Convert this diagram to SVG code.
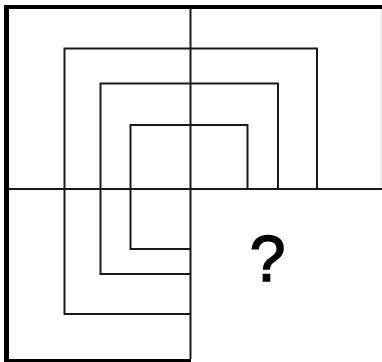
<svg xmlns="http://www.w3.org/2000/svg" width="382" height="362" viewBox="0 0 382 362">
  <style>
    .thin { fill: none; stroke: #1a1a1a; stroke-width: 2; }
    .thick { fill: none; stroke: #000; }
    .q { font-family: "Liberation Sans", Arial, sans-serif; font-size: 64px; fill: #000; stroke: #000; stroke-width: 1.6; }
  </style>
  <rect x="0" y="0" width="382" height="362" fill="#fff"/>
  <g id="frame">
    <line class="thick" x1="4" y1="7" x2="382" y2="7" stroke-width="4"/>
    <line class="thick" x1="6.5" y1="5" x2="6.5" y2="362" stroke-width="5"/>
    <line class="thick" x1="4" y1="360.5" x2="191" y2="360.5" stroke-width="3"/>
    <line x1="381" y1="9" x2="381" y2="189" stroke="#e0e0e0" stroke-width="1"/>
  </g>
  <g id="axes">
    <line class="thin" x1="9" y1="189" x2="382" y2="189"/>
    <line class="thin" x1="190.5" y1="9" x2="190.5" y2="359"/>
  </g>
  <g id="squares">
    <path class="thin" d="M317,189 V48.5 H64.5 V314 H190"/>
    <path class="thin" d="M278,189 V83.5 H100.5 V274 H190"/>
    <path class="thin" d="M247.5,189 V125 H130.5 V249 H190"/>
  </g>
  <text class="q" x="267.5" y="281" text-anchor="middle">?</text>
</svg>
